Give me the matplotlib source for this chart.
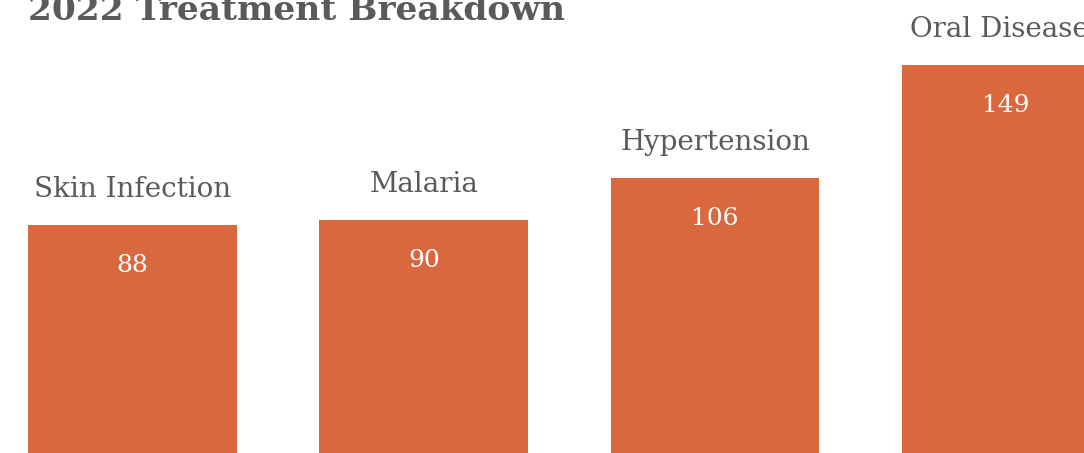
import matplotlib
matplotlib.use("Agg")
import matplotlib.pyplot as plt

# data
categories = ["Skin Infection", "Malaria", "Hypertension", "Oral Diseases"]
counts = [88, 90, 106, 149]
title = "2022 Treatment Breakdown"

bar_color = "#D9683F"
text_color = "#5a5a5a"

plt.rcParams["font.family"] = ["DejaVu Serif"]

fig = plt.figure(figsize=(10.84, 4.53), dpi=100)
ax = fig.add_axes([0, 0, 1, 1])

xs = list(range(len(categories)))
bars = ax.bar(xs, counts, width=0.717, color=bar_color, edgecolor="none")

for b, name, val in zip(bars, categories, counts):
    cx = b.get_x() + b.get_width() / 2
    top = b.get_height()
    ax.annotate(name, (cx, top), xytext=(0, 20), textcoords="offset points",
                ha="center", va="baseline", fontsize=20, color=text_color)
    ax.annotate(str(val), (cx, top), xytext=(0, -34), textcoords="offset points",
                ha="center", va="baseline", fontsize=18, color="white")

ax.set_xlim(-0.455, 3.267)
ax.set_ylim(1.07, 173.8)
ax.axis("off")

fig.text(28 / 1084, 1 - 20 / 453, title, ha="left", va="baseline",
         fontsize=24.8, fontweight="bold", color=text_color)

fig.savefig("out.png", dpi=100)
